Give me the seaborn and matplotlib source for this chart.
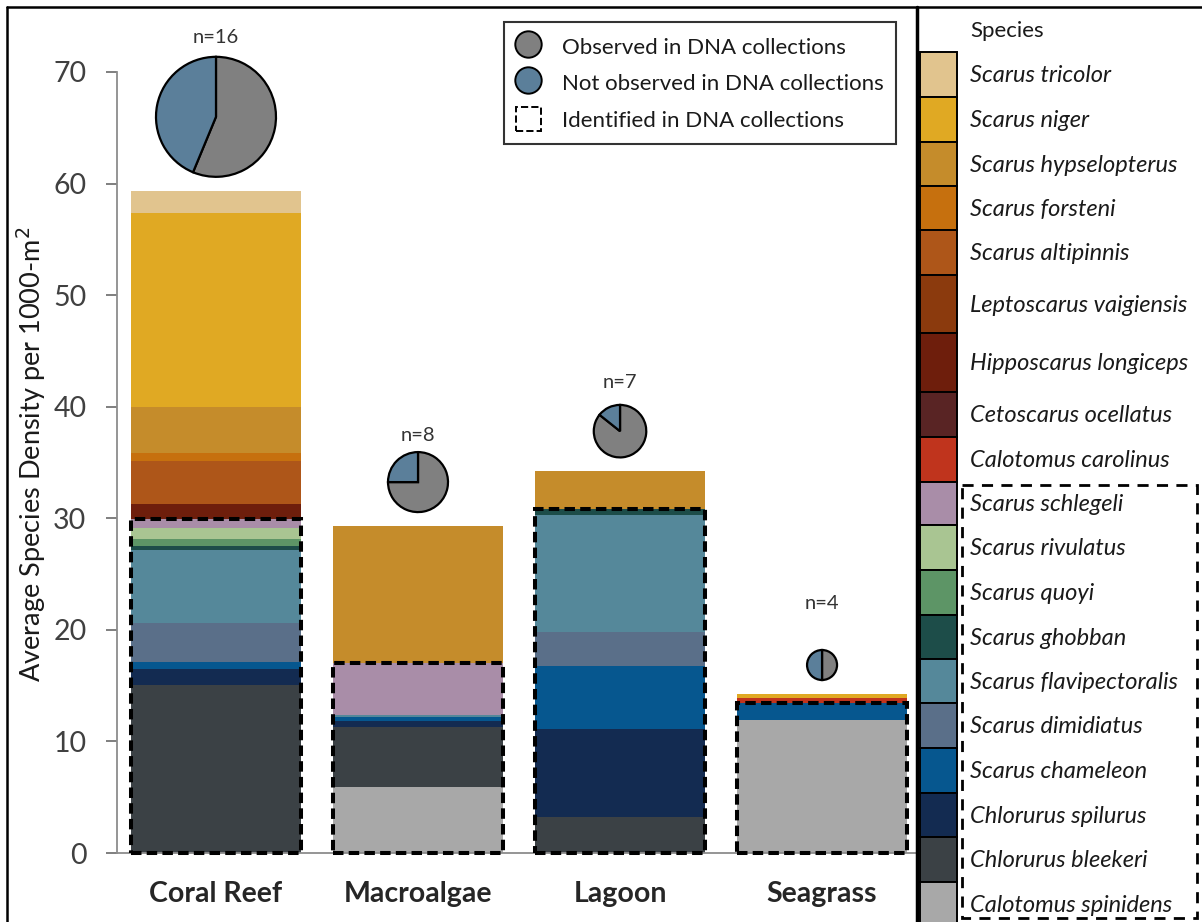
import numpy as np
import pandas as pd
import matplotlib
matplotlib.use("Agg")
import matplotlib.pyplot as plt
from matplotlib.lines import Line2D
from matplotlib.patches import Patch, Rectangle
import seaborn as sns

# ---- data -----------------------------------------------------------------
habitats = ["Coral Reef", "Macroalgae", "Lagoon", "Seagrass"]

species = [
    "Scarus tricolor", "Scarus niger", "Scarus hypselopterus", "Scarus forsteni",
    "Scarus altipinnis", "Leptoscarus vaigiensis", "Hipposcarus longiceps",
    "Cetoscarus ocellatus", "Calotomus carolinus", "Scarus schlegeli",
    "Scarus rivulatus", "Scarus quoyi", "Scarus ghobban", "Scarus flavipectoralis",
    "Scarus dimidiatus", "Scarus chameleon", "Chlorurus spilurus",
    "Chlorurus bleekeri", "Calotomus spinidens",
]
species_colors = [
    "#E1C48E", "#E0A923", "#C58C2B", "#C6700E", "#AE5619", "#8B3A0D",
    "#6E1E0C", "#592424", "#C0341D", "#A98DA8", "#A9C592", "#5D9566",
    "#1D4D49", "#55889A", "#5A6F89", "#06578F", "#132B51", "#3B4145",
    "#A8A8A8",
]
# species found in the DNA collections (dashed outline)
identified = species[9:]

# average density per 1000 m^2, in species order
coral_reef = [2.0, 17.35, 4.15, 0.7, 3.85, 0, 1.4, 0, 0,
              0.8, 1.0, 0.6, 0.3, 6.6, 3.5, 0.6, 1.45, 15.05, 0]
macroalgae = [0, 0, 12.25, 0, 0, 0, 0, 0, 0,
              4.7, 0, 0, 0, 0.15, 0, 0.35, 0.6, 5.3, 5.95]
lagoon = [0, 0, 3.35, 0, 0, 0, 0, 0, 0,
          0, 0, 0, 0.6, 10.45, 3.05, 5.6, 7.95, 3.2, 0]
seagrass = [0, 0.4, 0, 0, 0, 0, 0, 0, 0.4,
            0, 0, 0, 0, 0, 0, 1.55, 0, 0, 11.9]

# DNA collection sample sizes and how many species were observed
n_dna = [16, 8, 7, 4]
n_observed = [9, 6, 6, 2]

yticks = [0, 10, 20, 30, 40, 50, 60, 70]

pie_observed = "#808080"
pie_not_observed = "#5B7F9A"

# ---- figure ---------------------------------------------------------------
sns.set_theme(style="white")
plt.rcParams["font.family"] = ["Lato", "DejaVu Sans"]

W, H = 1202, 922
fig = plt.figure(figsize=(W / 100, H / 100), dpi=100)
ax = fig.add_axes([117 / W, 69 / H, 800 / W, 781 / H])

df = pd.DataFrame({
    "habitat": np.repeat(habitats, len(species)),
    "species": species * len(habitats),
    "density": np.concatenate([coral_reef, macroalgae, lagoon, seagrass]),
})

sns.histplot(
    data=df, x="habitat", hue="species", weights="density",
    hue_order=species, palette=dict(zip(species, species_colors)),
    multiple="stack", discrete=True, shrink=0.84, linewidth=0,
    alpha=1, legend=False, ax=ax,
)

# dashed outline around the DNA-identified portion of each bar
id_totals = (df[df["species"].isin(identified)]
             .groupby("habitat", sort=False)["density"].sum()
             .reindex(habitats))
ax.bar(range(len(habitats)), id_totals.values, width=0.845, fill=False,
       edgecolor="black", linewidth=2.9, linestyle=(0, (2.6, 1.3)),
       clip_on=False, zorder=4)

ax.set_xlim(-0.49, 3.47)
ax.set_ylim(0, 70)
ax.set_yticks(yticks)
ax.set_xticks(range(len(habitats)))
ax.set_xticklabels(habitats, fontsize=20.5, fontweight="bold", color="#262626")
ax.set_xlabel("")
ax.set_ylabel("Average Species Density per 1000-m$^{2}$", fontsize=19.5,
              color="#1a1a1a")
ax.yaxis.set_label_coords(-0.086, 0.51)
ax.tick_params(axis="y", which="major", direction="out", length=8, width=1.4,
               color="#7f7f7f", labelsize=20.5, labelcolor="#404040", pad=14,
               left=True)
ax.tick_params(axis="x", length=0, pad=20)
for side in ("top", "right"):
    ax.spines[side].set_visible(False)
for side in ("left", "bottom"):
    ax.spines[side].set_color("#8c8c8c")
    ax.spines[side].set_linewidth(1.3)

# ---- pies of DNA observation above each bar -------------------------------
bar_totals = df.groupby("habitat", sort=False)["density"].sum().reindex(habitats)
label_gap = [19, 17, 22, 47]
for i, hab in enumerate(habitats):
    r = 3.75 * n_dna[i]
    bx, by = ax.transData.transform((i, bar_totals[hab]))
    cx, cy = bx, by + r + 14
    pad = 1.1
    pax = fig.add_axes([(cx - r * pad) / W, (cy - r * pad) / H,
                        2 * r * pad / W, 2 * r * pad / H])
    pax.pie([n_observed[i], n_dna[i] - n_observed[i]],
            colors=[pie_observed, pie_not_observed], startangle=90,
            counterclock=False, radius=1,
            wedgeprops=dict(edgecolor="black", linewidth=1.6))
    pax.set_xlim(-pad, pad)
    pax.set_ylim(-pad, pad)
    pax.axis("off")
    fig.text(cx / W, (cy + r + label_gap[i]) / H, f"n={n_dna[i]}",
             ha="center", va="center", fontsize=14.5, color="#333333")

# ---- observation legend ---------------------------------------------------
handles = [
    Line2D([], [], marker="o", linestyle="none", markersize=19,
           markerfacecolor=pie_observed, markeredgecolor="black",
           markeredgewidth=1.4),
    Line2D([], [], marker="o", linestyle="none", markersize=19,
           markerfacecolor=pie_not_observed, markeredgecolor="black",
           markeredgewidth=1.4),
    Patch(facecolor="none", edgecolor="black", linestyle="--", linewidth=1.4),
]
labels = ["Observed in DNA collections", "Not observed in DNA collections",
          "Identified in DNA collections"]
leg = ax.legend(handles, labels, loc="upper left",
                bbox_to_anchor=(504 / W, 1 - 22 / H),
                bbox_transform=fig.transFigure, fontsize=16,
                frameon=True, fancybox=False, handlelength=1.1,
                handleheight=1.3, handletextpad=0.95, labelspacing=0.55,
                borderpad=0.55, borderaxespad=0)
leg.get_frame().set_edgecolor("black")
leg.get_frame().set_linewidth(1.5)
for t in leg.get_texts():
    t.set_color("#1a1a1a")

# ---- species colour key ---------------------------------------------------
lax = fig.add_axes([917 / W, 0, (W - 917) / W, 1])
lax.set_xlim(0, W - 917)
lax.set_ylim(H, 0)
lax.axis("off")

block_tops = [52, 97, 142, 186, 230, 275, 333, 392, 437, 482,
              525, 570, 615, 659, 703, 748, 793, 837, 882]
block_bottoms = block_tops[1:] + [927]
heights = [b - t for t, b in zip(block_tops, block_bottoms)]
lax.bar(3, heights, bottom=block_tops, width=37, align="edge",
        color=species_colors, edgecolor="black", linewidth=1.4,
        clip_on=False)
lax.text(53, 31, "Species", fontsize=16, va="center", color="#1a1a1a")
for name, t, h in zip(species, block_tops, heights):
    lax.text(53, t + h / 2 + 1, name, fontsize=17, style="italic",
             va="center", color="#1a1a1a")
lax.add_patch(Rectangle((45, 485), 235, 433, fill=False, edgecolor="black",
                        linewidth=2, linestyle=(0, (4, 3)), clip_on=False))

# ---- frame lines ----------------------------------------------------------
fig.add_artist(Line2D([917 / W, 917 / W], [0, 1 - 7 / H], color="black",
                      linewidth=2.5))
fig.add_artist(Line2D([7 / W, 1], [1 - 7 / H, 1 - 7 / H], color="black",
                      linewidth=1.8))
fig.add_artist(Line2D([7 / W, 7 / W], [0, 1 - 7 / H], color="black",
                      linewidth=1.8))

fig.savefig("out.png", dpi=100)
